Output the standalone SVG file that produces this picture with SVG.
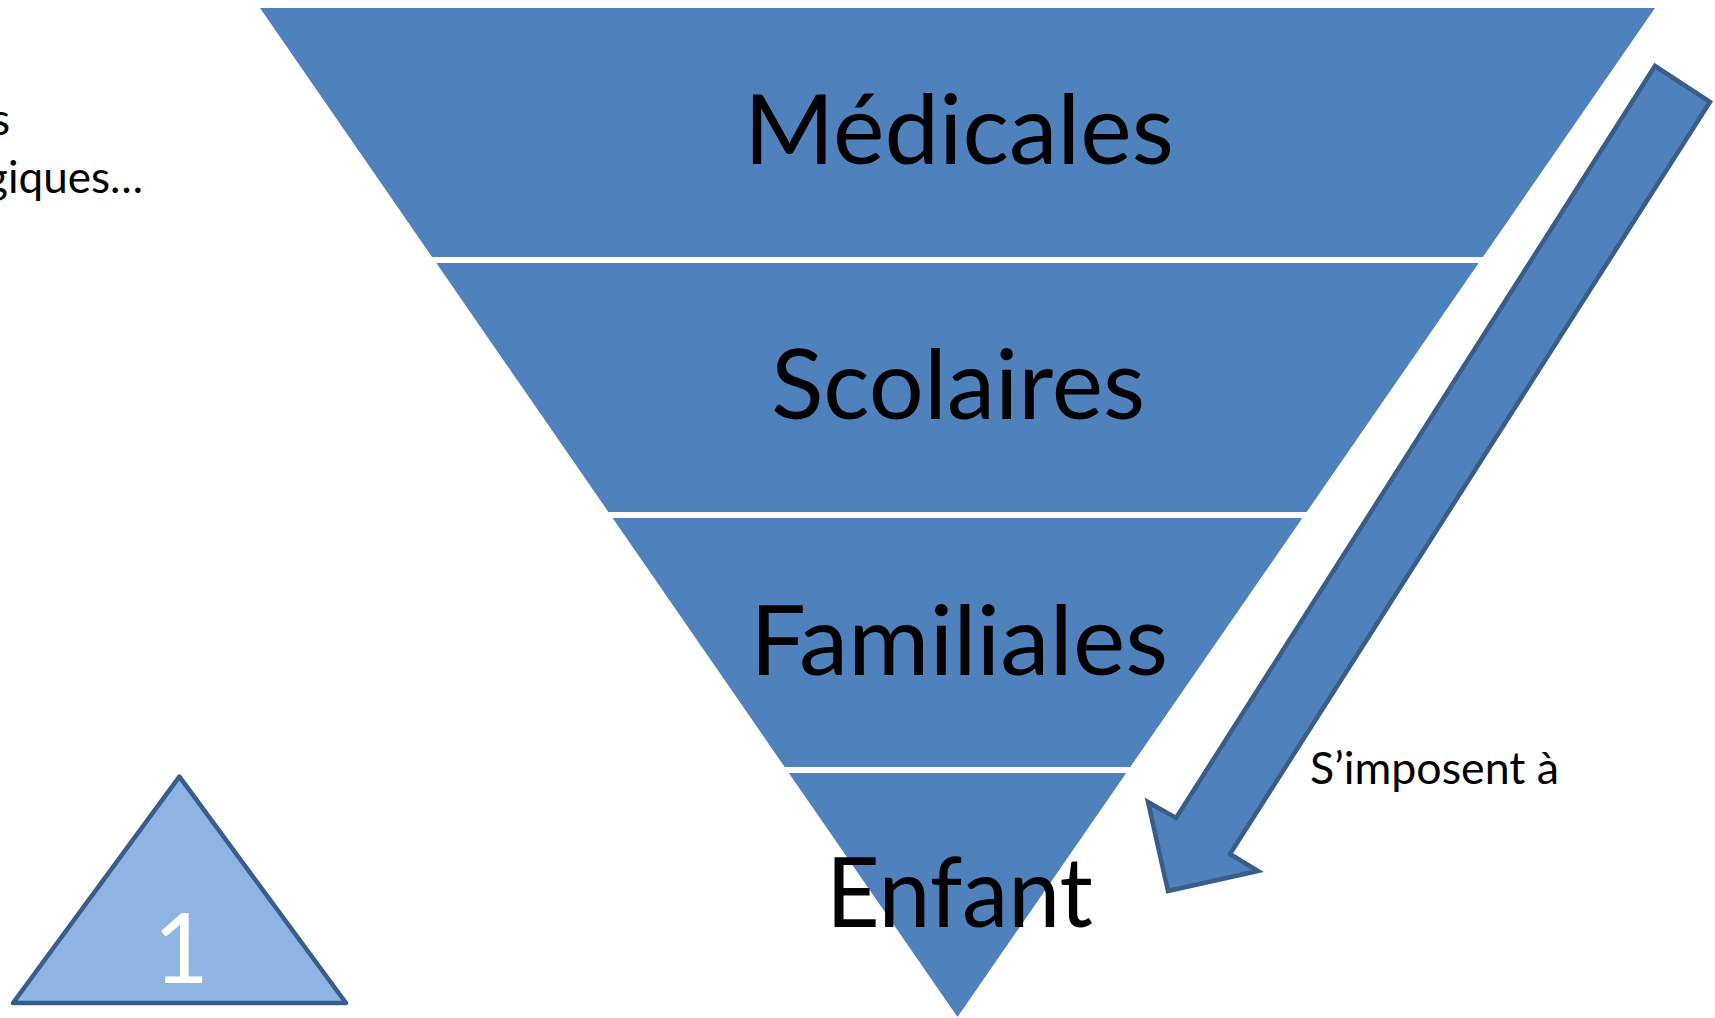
<svg xmlns="http://www.w3.org/2000/svg" width="1715" height="1018" viewBox="0 0 1715 1018">
<style>
.band{fill:#4F81BD;stroke:none}
.big{font-family:Lato,"Liberation Sans",sans-serif;font-size:96px;fill:#000;text-anchor:middle}
.small{font-family:Lato,"Liberation Sans",sans-serif;font-size:44px;fill:#000}
.arrow{fill:#4F81BD;stroke:#385D8A;stroke-width:4.5;stroke-linejoin:miter}
.tri{fill:#8EB4E3;stroke:#385D8A;stroke-width:4.5;stroke-linejoin:round}
</style>
<rect width="1715" height="1018" fill="#fff"/>
<g id="left-text">
<text class="small" x="10" y="135" text-anchor="end">s</text>
<text class="small" x="143" y="193" text-anchor="end">giques…</text>
</g>
<g id="band-medicales">
<polygon class="band" points="260,8 1655,8 1482.9,257 432.1,257"/>
<text class="big" x="959" y="164" textLength="430" lengthAdjust="spacingAndGlyphs">Médicales</text>
</g>
<g id="band-scolaires">
<polygon class="band" points="436.3,263 1478.7,263 1306.6,512 608.4,512"/>
<text class="big" x="958" y="419" textLength="374" lengthAdjust="spacingAndGlyphs">Scolaires</text>
</g>
<g id="band-familiales">
<polygon class="band" points="612.6,518 1302.4,518 1130.3,767 784.7,767"/>
<text class="big" x="959" y="675" textLength="418" lengthAdjust="spacingAndGlyphs">Familiales</text>
</g>
<g id="band-enfant">
<polygon class="band" points="788.8,773 1126.2,773 957.5,1017"/>
<text class="big" x="959.5" y="927" textLength="267" lengthAdjust="spacingAndGlyphs">Enfant</text>
</g>
<g id="connectors">
<polygon class="arrow" points="1655,66 1710,102 1230,854 1258,871 1168,891 1148,802 1176,818"/>
</g>
<g id="label-impose">
<text class="small" x="1310" y="784" textLength="249" lengthAdjust="spacingAndGlyphs">S’imposent à</text>
</g>
<g id="triangle-1">
<polygon class="tri" points="179.4,776.6 346,1003 13,1003"/>
<text x="181" y="983" font-family="Lato,'Liberation Sans',sans-serif" font-size="96" fill="#fff" text-anchor="middle">1</text>
</g>
</svg>
